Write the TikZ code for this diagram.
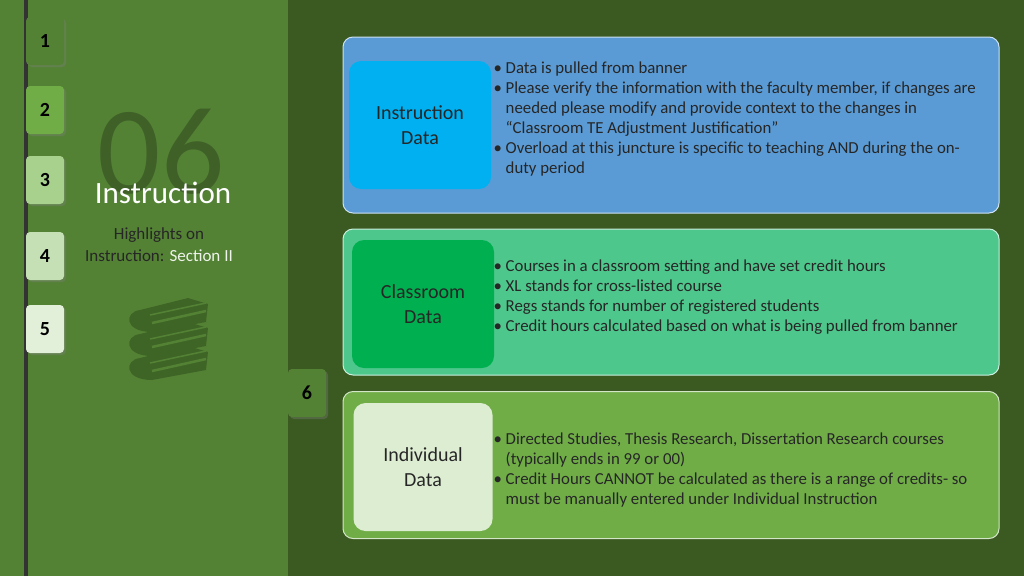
\documentclass[tikz,border=0pt]{standalone}
\usepackage{fontspec}
\setmainfont{Carlito}
\usetikzlibrary{positioning,calc,shadows}
\definecolor{bgdark}{HTML}{3B5A22}
\definecolor{panel}{HTML}{548235}
\definecolor{bookgreen}{HTML}{3F6526}
\definecolor{boxblue}{HTML}{5B9BD5}
\definecolor{boxteal}{HTML}{4EC78C}
\definecolor{boxgreen}{HTML}{70AD47}
\definecolor{cyanfill}{HTML}{00B0F0}
\definecolor{greenfill}{HTML}{00B050}
\definecolor{palefill}{HTML}{DDEDD2}
\definecolor{tabthree}{HTML}{A9D18E}
\definecolor{tabfour}{HTML}{C5E0B4}
\definecolor{tabfive}{HTML}{E2F0D9}
\tikzset{
	tab/.style={rounded corners=4pt, minimum width=38pt, minimum height=48pt,
		font=\fontsize{20}{22}\selectfont\bfseries, text=black,
		drop shadow={shadow xshift=2pt, shadow yshift=-2pt, opacity=.35}},
	outer/.style={draw=white!70!#1, line width=1pt, fill=#1, rounded corners=10pt,
		minimum width=656pt},
	inner/.style={fill=#1, rounded corners=12pt, minimum width=142pt, minimum height=128pt,
		align=center, font=\fontsize{20}{25}\selectfont, text=black!85},
	bullets/.style={align=left, anchor=west, font=\fontsize{16.8}{20}\selectfont, text=black!85},
}
\begin{document}
\begin{tikzpicture}[x=1pt,y=-1pt]
\useasboundingbox (0,0) rectangle (1024,576);
\fill[bgdark] (0,0) rectangle (1024,576);
\fill[panel] (0,0) rectangle (288,576);
\fill[black!80] (24,0) rectangle (28,576);
\fill[panel] (28,0) rectangle (288,576);
% tabs on the left
\foreach \n/\y/\c in {1/41/panel, 2/110/boxgreen, 3/180/tabthree,
	4/256/tabfour, 5/329/tabfive}
	\node[tab, fill=\c] (tab\n) at (45,\y) {\n};
\node[tab, fill=panel] (tab6) at (307,393) {6};
% title block
\node[text=black!25!panel, font=\fontsize{125}{125}\selectfont] (num) at (161,152) {06};
\node[text=white, font=\fontsize{31}{32}\selectfont] (title) at (163,193) {Instruction};
\node[align=center, font=\fontsize{17}{22}\selectfont, text=black!85] (sub) at (159,245)
	{Highlights on\\Instruction: \textcolor{white!90!panel}{Section II}};
% books
\foreach \yy in {370,346,322} {
	\fill[bookgreen] (140,\yy-12) -- (188,\yy-24) -- (208,\yy-18) -- (206,\yy) -- (152,\yy+10)
		.. controls (124,\yy+10) and (124,\yy-10) .. (140,\yy-12) -- cycle;
	\draw[panel, line width=2.5pt] (152,\yy+1) -- (206,\yy-11);
	\draw[panel, line width=1.5pt] (150,\yy-7) -- (206,\yy-19);
}
% content boxes
\node[outer=boxblue, minimum height=176pt] (box1) at (671,125) {};
\node[outer=boxteal, minimum height=146pt] (box2) at (671,302) {};
\node[outer=boxgreen, minimum height=147pt] (box3) at (671,465) {};
\node[inner=cyanfill] (in1) at (420,125) {Instruction\\Data};
\node[inner=greenfill] (in2) at (423,304) {Classroom\\Data};
\node[inner=palefill, minimum width=139pt] (in3) at (423,467) {Individual\\Data};
\node[bullets] (txt1) at (490,119) {%
	• Data is pulled from banner\\
	• Please verify the information with the faculty member, if changes are\\
	\phantom{• }needed please modify and provide context to the changes in\\
	\phantom{• }“Classroom TE Adjustment Justification”\\
	• Overload at this juncture is specific to teaching AND during the on-\\
	\phantom{• }duty period};
\node[bullets] (txt2) at (490,297) {%
	• Courses in a classroom setting and have set credit hours\\
	• XL stands for cross-listed course\\
	• Regs stands for number of registered students\\
	• Credit hours calculated based on what is being pulled from banner};
\node[bullets] (txt3) at (490,470) {%
	• Directed Studies, Thesis Research, Dissertation Research courses\\
	\phantom{• }(typically ends in 99 or 00)\\
	• Credit Hours CANNOT be calculated as there is a range of credits- so\\
	\phantom{• }must be manually entered under Individual Instruction};
\end{tikzpicture}
\end{document}
